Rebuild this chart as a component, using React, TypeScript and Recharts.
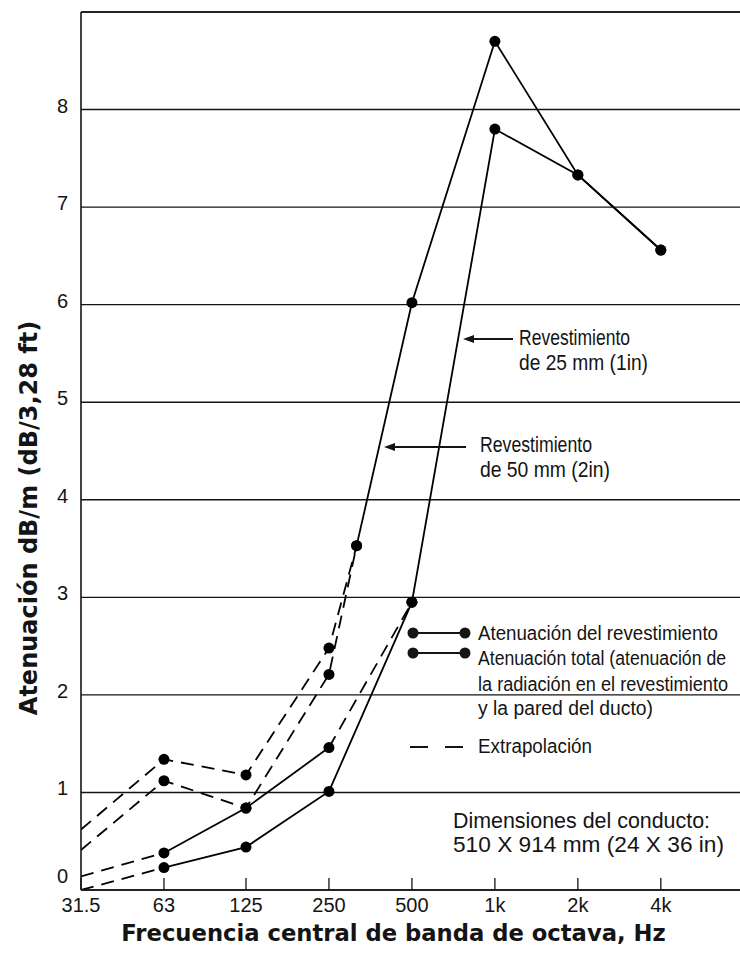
import { ComposedChart, Line, XAxis, YAxis, CartesianGrid, ReferenceLine, Label } from "recharts";

// octave band centre frequencies (Hz); 315 is the extra point between 250 and 500
const FREQ = [31.5, 63, 125, 250, 315, 500, 1000, 2000, 4000];

// attenuation dB/m (null = no value at that frequency)
const TOTAL_2IN = [0.62, 1.34, 1.18, 2.48, 3.53, 6.02, 8.7, 7.33, 6.56];
const LINER_2IN = [0.41, 1.12, 0.84, 2.21, 3.53, null, null, null, null];
const LINER_1IN = [0.14, 0.38, 0.84, 1.46, null, 2.95, null, null, null];
const TOTAL_1IN = [0.0, 0.23, 0.44, 1.01, null, 2.95, 7.8, 7.33, 6.56];

const X_TICKS = [31.5, 63, 125, 250, 500, 1000, 2000, 4000];
const X_TICK_LABELS = ["31.5", "63", "125", "250", "500", "1k", "2k", "4k"];
const Y_TICKS = [0, 1, 2, 3, 4, 5, 6, 7, 8];

const W = 740;
const H = 953;
const INK = "#141414";
const TICK_FONT = "'Liberation Sans', Arial, sans-serif";
const NOTE_FONT = "'Liberation Sans', Arial, sans-serif";
const BOLD_FONT = "'DejaVu Sans', sans-serif";

function pts(vals: (number | null)[], from: number, to: number) {
  return FREQ.map((f, i) => ({ f, v: vals[i] })).filter((p) => p.v != null && p.f >= from && p.f <= to);
}

const segments = [
  { data: pts(TOTAL_2IN, 31.5, 315), dashed: true },
  { data: pts(TOTAL_2IN, 315, 4000), dashed: false },
  { data: pts(LINER_2IN, 31.5, 315), dashed: true },
  { data: pts(LINER_1IN, 31.5, 63), dashed: true },
  { data: pts(LINER_1IN, 63, 250), dashed: false },
  { data: pts(LINER_1IN, 250, 500), dashed: true },
  { data: pts(TOTAL_1IN, 31.5, 63), dashed: true },
  { data: pts(TOTAL_1IN, 63, 4000), dashed: false },
];

const markers = [TOTAL_2IN, LINER_2IN, LINER_1IN, TOTAL_1IN].map((s) => pts(s, 63, 4000));

function XTick({ x, y, payload }: any) {
  const label = X_TICK_LABELS[X_TICKS.indexOf(payload.value)];
  return (
    <g>
      <line x1={x} x2={x} y1={y} y2={y - 12} stroke={INK} strokeWidth={1.3} />
      <text x={x} y={y + 22} textAnchor="middle" fontSize={20} fontFamily={TICK_FONT} fill={INK}>
        {label}
      </text>
    </g>
  );
}

function YTick({ x, y, payload }: any) {
  const shift = payload.value === 0 ? -14 : -4;
  return (
    <text x={x - 13} y={y + shift + 7} textAnchor="end" fontSize={20} fontFamily={TICK_FONT} fill={INK}>
      {payload.value}
    </text>
  );
}

function YTitle({ viewBox }: any) {
  const cx = viewBox.x + 29;
  const cy = viewBox.y + viewBox.height / 2 + 67;
  return (
    <text
      transform={`translate(${cx},${cy}) rotate(-90)`}
      textAnchor="middle"
      dominantBaseline="central"
      fontSize={24}
      fontWeight="bold"
      fontFamily={BOLD_FONT}
      fill={INK}
    >
      Atenuación dB/m (dB/3,28 ft)
    </text>
  );
}

function XTitle({ viewBox }: any) {
  return (
    <text
      x={viewBox.x + viewBox.width / 2 - 17}
      y={viewBox.y + 51}
      textAnchor="middle"
      fontSize={22.7}
      fontWeight="bold"
      fontFamily={BOLD_FONT}
      fill={INK}
    >
      Frecuencia central de banda de octava, Hz
    </text>
  );
}

// condensed text: squeeze glyphs to the width measured on the figure
function Note({ x, y, size, w, children }: any) {
  return (
    <text x={x} y={y} fontSize={size} fontFamily={NOTE_FONT} fill={INK} textLength={w} lengthAdjust="spacingAndGlyphs">
      {children}
    </text>
  );
}

function Notes() {
  return (
    <svg width={W} height={H} style={{ position: "absolute", left: 0, top: 0, pointerEvents: "none" }}>
      {/* arrows to the two liner curves */}
      <line x1={513} y1={339} x2={470} y2={339} stroke={INK} strokeWidth={2} />
      <polygon points="463,339 474,335 474,343" fill={INK} />
      <Note x={519} y={345} size={22} w={111}>Revestimiento</Note>
      <Note x={519} y={370} size={22} w={129}>de 25 mm (1in)</Note>

      <line x1={466} y1={447} x2={391} y2={447} stroke={INK} strokeWidth={2} />
      <polygon points="384,447 395,443 395,451" fill={INK} />
      <Note x={480} y={452} size={22} w={112}>Revestimiento</Note>
      <Note x={480} y={477} size={22} w={130}>de 50 mm (2in)</Note>

      {/* legend */}
      <line x1={413} y1={633} x2={465} y2={633} stroke={INK} strokeWidth={1.8} />
      <circle cx={413} cy={633} r={5.5} fill={INK} />
      <circle cx={465} cy={633} r={5.5} fill={INK} />
      <Note x={478} y={640} size={20} w={240}>Atenuación del revestimiento</Note>

      <line x1={413} y1={653} x2={465} y2={653} stroke={INK} strokeWidth={1.8} />
      <circle cx={413} cy={653} r={5.5} fill={INK} />
      <circle cx={465} cy={653} r={5.5} fill={INK} />
      <Note x={478} y={665} size={20} w={248}>Atenuación total (atenuación de</Note>
      <Note x={478} y={691} size={20} w={250}>la radiación en el revestimiento</Note>
      <Note x={478} y={715} size={20} w={175}>y la pared del ducto)</Note>

      <line x1={410} y1={747} x2={463} y2={747} stroke={INK} strokeWidth={1.8} strokeDasharray="18 17" />
      <Note x={478} y={753} size={20} w={114}>Extrapolación</Note>

      <Note x={453} y={828} size={22} w={257}>Dimensiones del conducto:</Note>
      <Note x={453} y={852} size={22} w={271}>510 X 914 mm (24 X 36 in)</Note>
    </svg>
  );
}

export default function App() {
  return (
    <div style={{ position: "absolute", left: 0, top: 0, width: W, height: H, background: "#fff" }}>
      <ComposedChart width={W} height={H} margin={{ top: 12, right: 0, bottom: 0, left: 0 }}>
        <CartesianGrid horizontal vertical={false} stroke={INK} strokeWidth={1.4} />
        <XAxis
          dataKey="f"
          type="number"
          scale="log"
          domain={[31.5, 7750]}
          ticks={X_TICKS}
          allowDataOverflow
          height={63}
          tickSize={0}
          tickMargin={0}
          tick={<XTick />}
          axisLine={{ stroke: INK, strokeWidth: 1.6 }}
        >
          <Label content={<XTitle />} />
        </XAxis>
        <YAxis
          type="number"
          domain={[0, 9]}
          ticks={Y_TICKS}
          allowDataOverflow
          width={81}
          tickSize={0}
          tickMargin={0}
          tick={<YTick />}
          axisLine={{ stroke: INK, strokeWidth: 1.6 }}
        >
          <Label content={<YTitle />} />
        </YAxis>
        <ReferenceLine y={9} stroke={INK} strokeWidth={1.6} />
        {segments.map((s, i) => (
          <Line
            key={"seg" + i}
            data={s.data}
            dataKey="v"
            type="linear"
            stroke="#000"
            strokeWidth={1.8}
            strokeDasharray={s.dashed ? "13 8" : undefined}
            dot={false}
            activeDot={false}
            isAnimationActive={false}
          />
        ))}
        {markers.map((m, i) => (
          <Line
            key={"dot" + i}
            data={m}
            dataKey="v"
            stroke="none"
            dot={{ r: 5.5, fill: "#000", stroke: "none" }}
            activeDot={false}
            isAnimationActive={false}
          />
        ))}
      </ComposedChart>
      <Notes />
    </div>
  );
}
